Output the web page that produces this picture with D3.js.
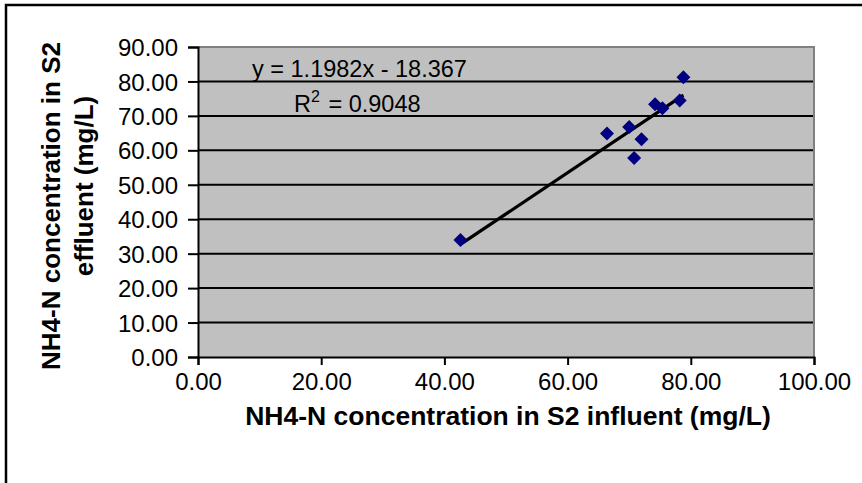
<!DOCTYPE html>
<html>
<head>
<meta charset="utf-8">
<script src="https://cdn.jsdelivr.net/npm/d3@7"></script>
<style>
 body{margin:0;background:#fff;}
 svg{display:block;font-family:Arial,'Liberation Sans',sans-serif;}
</style>
</head>
<body>
<div id="chart"></div>
<script>
// influent vs effluent NH4-N (mg/L)
const influent = [78.8, 78.2, 74.2, 75.4, 70.0, 66.4, 72.0, 70.8, 42.6];
const effluent = [81.2, 74.5, 73.4, 72.2, 66.8, 64.9, 63.2, 57.8, 34.0];
const xTicks = [0, 20, 40, 60, 80, 100];
const yTicks = [0, 10, 20, 30, 40, 50, 60, 70, 80, 90];
const slope = 1.1982, intercept = -18.367;
const eqText = 'y = 1.1982x - 18.367';
const r2Value = '0.9048';

const width = 862, height = 483;
const margin = {top:47, right:48, bottom:126, left:198};
const visWidth = width - margin.left - margin.right;
const visHeight = height - margin.top - margin.bottom;

const svg = d3.select('#chart').append('svg')
    .attr('width', width)
    .attr('height', height);

// outer chart border (only left and top visible)
svg.append('path')
    .attr('d', `M6,${height} L6,5 L${width},5`)
    .attr('fill','none')
    .attr('stroke','#000')
    .attr('stroke-width',2.5);

const container = svg.append('g')
    .attr('transform', `translate(${margin.left}, ${margin.top})`);

const xScale = d3.scaleLinear().domain([0,100]).range([0,visWidth]);
const yScale = d3.scaleLinear().domain([0,90]).range([visHeight,0]);

// plot background
container.append('rect')
    .attr('width', visWidth)
    .attr('height', visHeight)
    .attr('fill','#C0C0C0');

// horizontal grid lines
container.append('g')
    .selectAll('line')
    .data(yTicks.filter(d=>d>0 && d<90))
    .join('line')
    .attr('x1',0)
    .attr('x2',visWidth)
    .attr('y1',d=>yScale(d))
    .attr('y2',d=>yScale(d))
    .attr('stroke','#000')
    .attr('stroke-width',2);

// gray border top and right
container.append('path')
    .attr('d', `M0,0 L${visWidth},0 L${visWidth},${visHeight}`)
    .attr('fill','none')
    .attr('stroke','#808080')
    .attr('stroke-width',2);

// axes
const xAxis = d3.axisBottom(xScale)
    .tickValues(xTicks)
    .tickSize(8)
    .tickPadding(8)
    .tickFormat(d3.format('.2f'));
const yAxis = d3.axisLeft(yScale)
    .tickValues(yTicks)
    .tickSize(10)
    .tickPadding(10)
    .tickFormat(d3.format('.2f'));

const gx = container.append('g')
    .attr('transform', `translate(0,${visHeight})`)
    .call(xAxis);
const gy = container.append('g')
    .call(yAxis);

[gx, gy].forEach(g=>{
  g.select('.domain').attr('stroke','#000').attr('stroke-width',2);
  g.selectAll('.tick line').attr('stroke','#000').attr('stroke-width',2);
  g.selectAll('.tick text')
      .attr('fill','#000')
      .style('font-size','24px')
      .style('font-family','Arial, Liberation Sans, sans-serif');
});
gy.selectAll('.tick text').attr('dy','0.36em');

// trend line over the data range
const xMin = d3.min(influent), xMax = d3.max(influent);
container.append('line')
    .attr('x1', xScale(xMin))
    .attr('y1', yScale(slope*xMin + intercept))
    .attr('x2', xScale(xMax))
    .attr('y2', yScale(slope*xMax + intercept))
    .attr('stroke','#000')
    .attr('stroke-width',3.2);

// diamond markers
const points = influent.map((d,i)=>({x:d, y:effluent[i]}));
container.append('g')
    .selectAll('path')
    .data(points)
    .join('path')
    .attr('transform', d=>`translate(${xScale(d.x)},${yScale(d.y)})`)
    .attr('d', 'M0,-7 L7,0 L0,7 L-7,0 Z')
    .attr('fill','#000080');

// equation and R squared
svg.append('text')
    .attr('x', 252)
    .attr('y', 77)
    .style('font-size','23.5px')
    .text(eqText);

const r2 = svg.append('text')
    .attr('x', 294)
    .attr('y', 112)
    .style('font-size','23.5px');
r2.append('tspan').text('R');
r2.append('tspan').attr('dy',-10).style('font-size','16px').text('2');
r2.append('tspan').attr('dy',10).attr('dx',2).text(' = ' + r2Value);

// axis titles
svg.append('text')
    .attr('x', margin.left + visWidth/2 + 2)
    .attr('y', 425)
    .attr('text-anchor','middle')
    .style('font-size','26.5px')
    .style('font-weight','bold')
    .text('NH4-N concentration in S2 influent (mg/L)');

svg.append('text')
    .attr('transform','translate(60,206) rotate(-90)')
    .attr('text-anchor','middle')
    .style('font-size','26px')
    .style('font-weight','bold')
    .text('NH4-N concentration in S2');

svg.append('text')
    .attr('transform','translate(93,186) rotate(-90)')
    .attr('text-anchor','middle')
    .style('font-size','26px')
    .style('font-weight','bold')
    .text('effluent (mg/L)');
</script>
</body>
</html>
